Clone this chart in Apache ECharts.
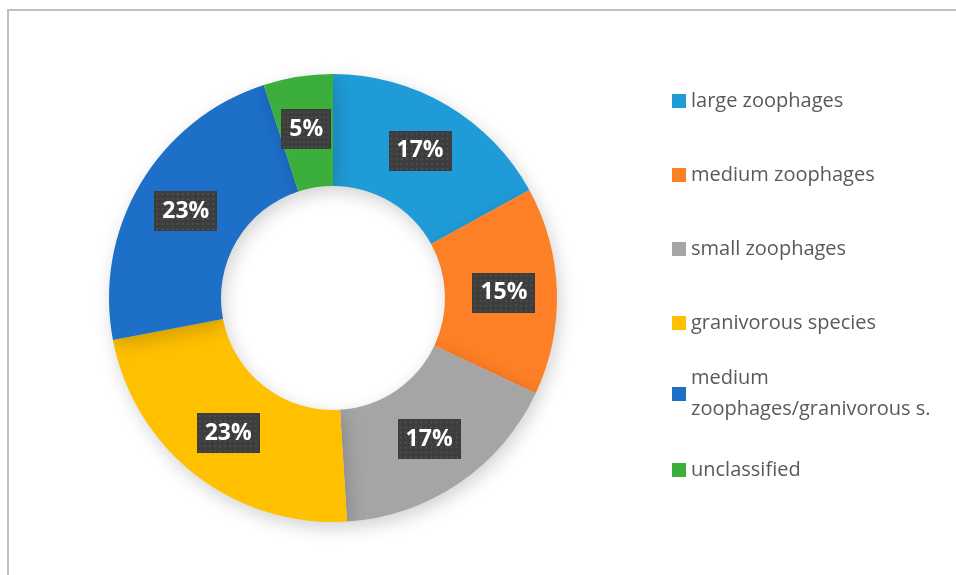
<!DOCTYPE html>
<html>
<head>
<meta charset="utf-8">
<script src="https://cdn.jsdelivr.net/npm/echarts@6/dist/echarts.min.js"></script>
<style>
  html, body { margin: 0; padding: 0; background: #fff; }
  #chart { width: 956px; height: 575px; }
</style>
</head>
<body>
<div id="chart"></div>
<script>
// data
const categories = ['large zoophages', 'medium zoophages', 'small zoophages', 'granivorous species', 'medium zoophages/granivorous s.', 'unclassified'];
const shares = [17, 15, 17, 23, 23, 5];
const colors = ['#1f9bd7', '#fd7f26', '#a5a5a5', '#ffc000', '#1d6fc8', '#3cae3c'];
// legend icon centres (px)
const legendTops = [98, 172, 246, 320, 394, 467];

// dotted dark texture for the labels
function makeTexture() {
  const c = document.createElement('canvas');
  c.width = 62; c.height = 40;
  const ctx = c.getContext('2d');
  ctx.fillStyle = '#3d3d3d';
  ctx.fillRect(0, 0, 62, 40);
  ctx.fillStyle = '#4d4d4d';
  for (let y = 2; y < 40; y += 5) {
    for (let x = 2; x < 62; x += 5) {
      ctx.fillRect(x, y, 2, 2);
    }
  }
  return c;
}
const texture = makeTexture();

const chart = echarts.init(document.getElementById('chart'));

const legends = categories.map((name, i) => {
  const twoLine = name.indexOf('/') >= 0;
  return {
    orient: 'vertical',
    left: 672,
    // two-line text box sticks out above the icon, the group is shifted by that
    top: legendTops[i] - 7 - (twoLine ? 39.5 : 0),
    padding: 0,
    itemWidth: 14,
    itemHeight: 14,
    itemGap: 0,
    icon: 'rect',
    selectedMode: false,
    data: [name],
    formatter: n => twoLine ? 'medium\nzoophages/granivorous s.' : n,
    textStyle: {
      color: '#595959',
      fontSize: 20,
      fontFamily: 'Open Sans',
      lineHeight: twoLine ? 31 : 14,
      padding: twoLine ? [31, 0, 0, 0] : 0
    }
  };
});

chart.setOption({
  backgroundColor: '#fff',
  animation: false,
  color: colors,
  graphic: [{
    type: 'rect',
    shape: { x: 8, y: 10, width: 1200, height: 1000 },
    style: { fill: 'none', stroke: '#bfbfbf', lineWidth: 2 },
    silent: true
  }],
  legend: legends,
  series: [{
    type: 'pie',
    center: [333, 298],
    radius: [112, 224],
    startAngle: 90,
    clockwise: true,
    avoidLabelOverlap: false,
    itemStyle: {
      borderWidth: 0,
      shadowBlur: 18,
      shadowOffsetX: 3,
      shadowOffsetY: 6,
      shadowColor: 'rgba(0,0,0,0.18)'
    },
    label: {
      show: true,
      position: 'inside',
      formatter: '{c}%',
      color: '#fff',
      fontSize: 23,
      fontWeight: 'bold',
      fontFamily: 'Open Sans',
      lineHeight: 24,
      padding: [8, 8, 8, 8],
      backgroundColor: { image: texture },
      shadowColor: 'rgba(0,0,0,0.55)',
      shadowBlur: 6,
      shadowOffsetX: 3,
      shadowOffsetY: 3
    },
    labelLine: { show: false },
    emphasis: { disabled: true },
    data: categories.map((name, i) => ({ name: name, value: shares[i] }))
  }]
});
</script>
</body>
</html>
